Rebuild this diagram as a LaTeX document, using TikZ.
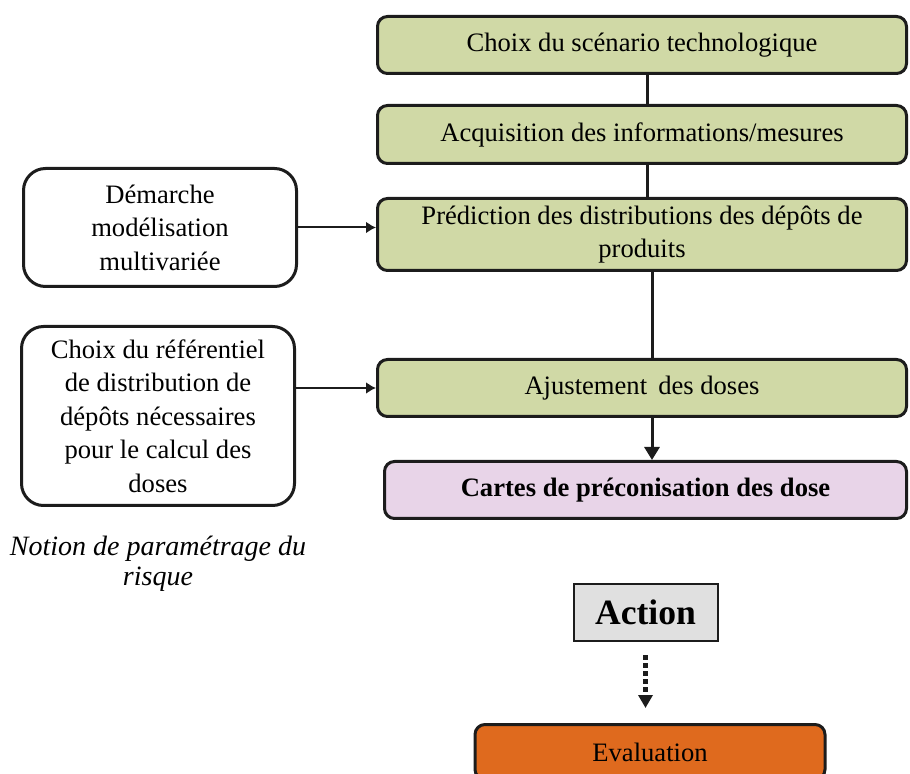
\documentclass[tikz,border=0pt]{standalone}
\usepackage{fontspec}
\setmainfont{Liberation Serif}
\usetikzlibrary{arrows.meta,positioning}
\definecolor{leafgreen}{RGB}{208,217,166}
\definecolor{mauve}{RGB}{232,212,232}
\definecolor{actiongray}{RGB}{224,224,224}
\definecolor{burntorange}{RGB}{223,106,30}
\definecolor{edgegray}{RGB}{28,28,28}
\tikzset{
 stepbox/.style={
 rectangle,
 rounded corners=5pt,
 draw=edgegray,
 fill=leafgreen,
 line width=1.5pt,
 align=center,
 minimum width=264.5pt,
 minimum height=28.5pt,
 inner sep=2pt,
 font=\fontsize{13.3}{16.5}\selectfont
 },
 mapbox/.style={
 stepbox,
 fill=mauve,
 minimum width=261pt,
 font=\fontsize{13.3}{16.5}\selectfont\bfseries
 },
 sidebox/.style={
 rectangle,
 rounded corners=11pt,
 draw=edgegray,
 fill=white,
 line width=1.5pt,
 align=center,
 minimum width=136.5pt,
 inner sep=2pt,
 font=\fontsize{13.3}{16.7}\selectfont
 },
 actionbox/.style={
 rectangle,
 draw=edgegray,
 fill=actiongray,
 line width=1pt,
 minimum width=72pt,
 minimum height=28.5pt,
 font=\fontsize{17.8}{20}\selectfont\bfseries
 },
 evalbox/.style={
 stepbox,
 fill=burntorange,
 minimum width=175pt,
 minimum height=27.5pt
 },
 link/.style={line width=1.5pt, draw=edgegray},
 feedarrow/.style={-{Latex[length=5pt,width=6pt]}, line width=1pt, draw=edgegray},
 droparrow/.style={-{Triangle[length=6.5pt,width=7.5pt]}, line width=1.5pt, draw=edgegray},
 dotarrow/.style={-{Triangle[length=6.5pt,width=7pt]}, line width=2.2pt, dash pattern=on 2.5pt off 1.5pt, draw=edgegray}
}

\begin{document}
\begin{tikzpicture}
 \useasboundingbox (0,0) rectangle (455pt,-387pt);
 % main chain
 \node[stepbox] (scenario) at (321pt,-22.5pt) {Choix du scénario technologique};
 \node[stepbox, below=14.5pt of scenario, minimum height=29pt] (acquis) {Acquisition des informations/mesures};
 \node[stepbox, below=16pt of acquis, minimum height=36pt] (predict) {Prédiction des distributions des dépôts de\\produits};
 \node[stepbox, below=43pt of predict] (ajust) {Ajustement\, des doses};
 \node[mapbox, below=21pt of ajust, xshift=1.75pt] (cartes) {Cartes de préconisation des dose};
 \node[actionbox, below=31.5pt of cartes] (action) {Action};
 \node[evalbox, below=40.5pt of action, xshift=2.25pt] (eval) {Evaluation};
 % side inputs
 \node[sidebox, left=39pt of predict, yshift=3.5pt, minimum height=59pt] (demarche) {Démarche\\modélisation\\multivariée};
 \node[sidebox, left=40pt of ajust, yshift=-14pt, minimum height=89.5pt] (referentiel) {Choix du référentiel\\de distribution de\\dépôts nécessaires\\pour le calcul des\\doses};
 \node[below=11pt of referentiel, align=center, font=\fontsize{14}{15}\selectfont\itshape] (notion) {Notion de paramétrage du\\risque};
 % connectors
 \draw[link] ([xshift=2.5pt]scenario.south) -- ([xshift=2.5pt]acquis.north);
 \draw[link] ([xshift=2.5pt]acquis.south) -- ([xshift=2.5pt]predict.north);
 \draw[link] ([xshift=5pt]predict.south) -- ([xshift=5pt]ajust.north);
 \draw[droparrow] ([xshift=5pt]ajust.south) -- ([xshift=5pt]ajust.south |- cartes.north);
 \draw[feedarrow] (demarche) -- (demarche -| predict.west);
 \draw[feedarrow] (ajust.west -| referentiel.east) -- (ajust.west);
 \draw[dotarrow, shorten <=6.5pt, shorten >=7.5pt] (action) -- (action |- eval.north);
\end{tikzpicture}
\end{document}
